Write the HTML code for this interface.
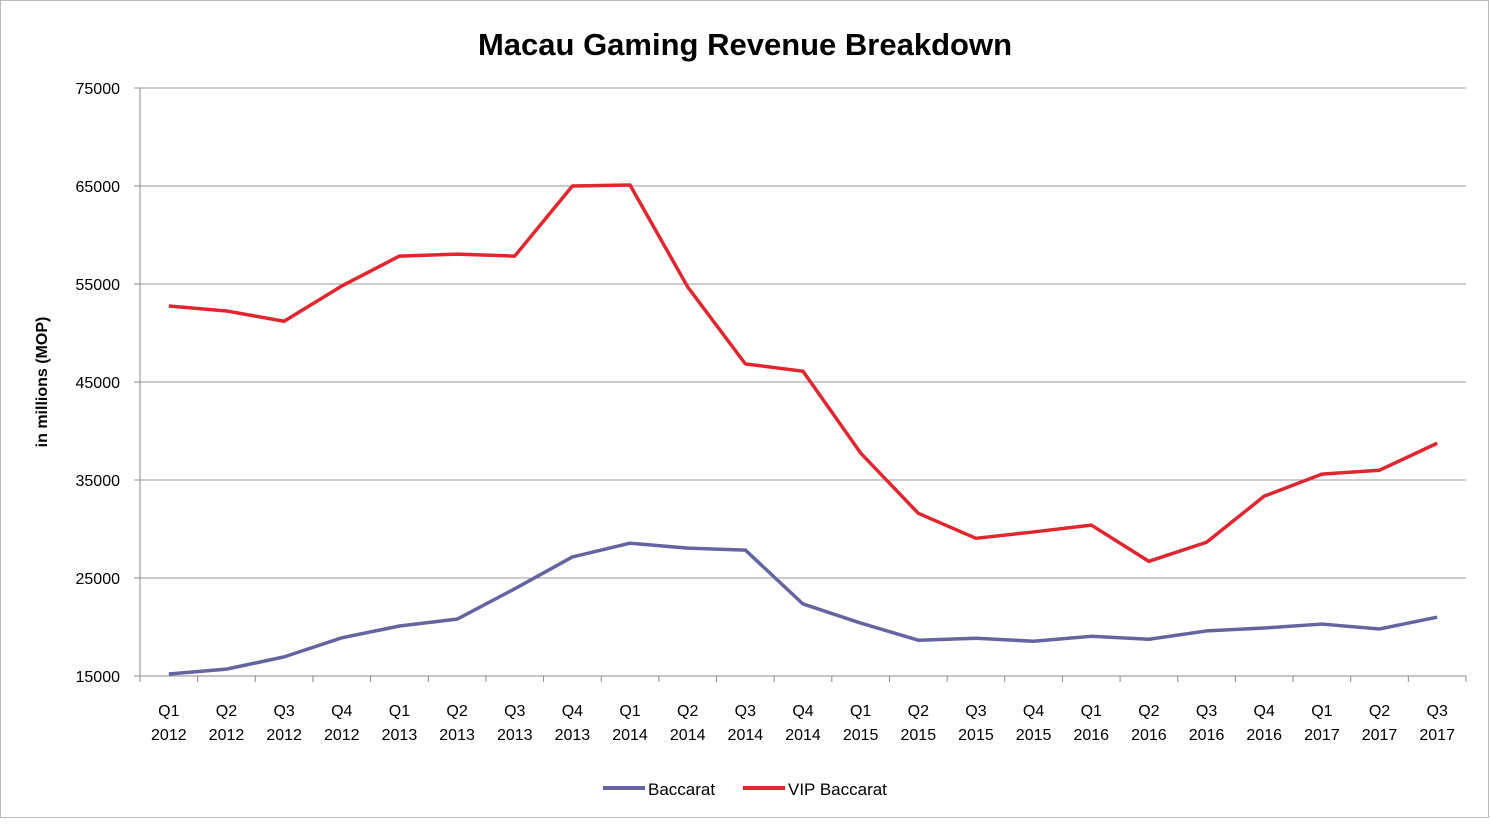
<!DOCTYPE html>
<html><head><meta charset="utf-8"><style>
body{margin:0;background:#fff;font-family:"Liberation Sans",sans-serif}
svg text{font-family:"Liberation Sans",sans-serif}
</style></head><body>
<svg id="chart" width="1490" height="819">
<rect x="0.5" y="0.5" width="1488" height="817" fill="#fff" stroke="#bbb"/>
<text x="745" y="55" text-anchor="middle" font-size="31" font-weight="bold">Macau Gaming Revenue Breakdown</text>
<text transform="translate(47,382) rotate(-90)" text-anchor="middle" font-size="16" font-weight="bold">in millions (MOP)</text>
<g id="grid"></g><g id="xlab"></g><g id="lines"></g>
<g>
<line x1="603" y1="788" x2="645" y2="788" stroke="#6464a0" stroke-width="4"/>
<text x="648" y="795" font-size="17">Baccarat</text>
<line x1="743" y1="788" x2="785" y2="788" stroke="#e0262e" stroke-width="4"/>
<text x="788" y="795" font-size="17">VIP Baccarat</text>
</g>
</svg>
<script>
const quarters=["Q1","Q2","Q3","Q4","Q1","Q2","Q3","Q4","Q1","Q2","Q3","Q4","Q1","Q2","Q3","Q4","Q1","Q2","Q3","Q4","Q1","Q2","Q3"];
const years=["2012","2012","2012","2012","2013","2013","2013","2013","2014","2014","2014","2014","2015","2015","2015","2015","2016","2016","2016","2016","2017","2017","2017"];
const vip=[52750,52250,51200,54800,57850,58050,57850,65000,65100,54700,46850,46100,37750,31600,29050,29700,30400,26700,28650,33350,35600,36000,38750];
const baccarat=[15200,15700,16950,18900,20100,20800,23900,27150,28550,28050,27850,22350,20400,18650,18850,18550,19050,18750,19600,19900,20300,19800,21000];
const yTicks=[15000,25000,35000,45000,55000,65000,75000];
const NS="http://www.w3.org/2000/svg";
const L=140,R=1466,T=88,B=676,yMin=15000,yMax=75000;
const cw=(R-L)/quarters.length;
const xS=i=>L+cw*(i+0.5);
const yS=v=>B-(v-yMin)/(yMax-yMin)*(B-T);
function mk(tag,attrs,parent){const e=document.createElementNS(NS,tag);for(const k in attrs)e.setAttribute(k,attrs[k]);parent.appendChild(e);return e;}
const grid=document.getElementById('grid');
yTicks.forEach(v=>{
  const y=yS(v);
  const ln=mk('line',{x1:L,x2:R,y1:y,y2:y,stroke:v===yMin?'#888':'#999','stroke-width':1},grid);
  
  
  const t=mk('text',{x:120,y:y+6,'text-anchor':'end','font-size':16},grid);
  t.textContent=v;
  
  
  mk('line',{x1:134,x2:L,y1:y,y2:y,stroke:'#888'},grid);
});
mk('line',{x1:L,x2:L,y1:T,y2:B,stroke:'#888'},grid);
const xl=document.getElementById('xlab');
for(let i=0;i<=quarters.length;i++){mk('line',{x1:L+cw*i,x2:L+cw*i,y1:B,y2:B+6,stroke:'#888'},xl);}
quarters.forEach((q,i)=>{
  const t=mk('text',{x:xS(i),y:716,'text-anchor':'middle','font-size':16},xl);
  t.textContent=q;
  
  
  const t2=mk('text',{x:xS(i),y:740,'text-anchor':'middle','font-size':16},xl);
  t2.textContent=years[i];
  
  
});
const lines=document.getElementById('lines');
function series(vals,color,name){
  const p=mk('polyline',{points:vals.map((v,i)=>xS(i)+','+yS(v)).join(' '),fill:'none',stroke:color,'stroke-width':3.5,'stroke-linejoin':'round'},lines);
  
  
}
series(baccarat,'#6464a0','baccarat-line');
series(vip,'#e0262e','vip-baccarat-line');
</script>
</body></html>
